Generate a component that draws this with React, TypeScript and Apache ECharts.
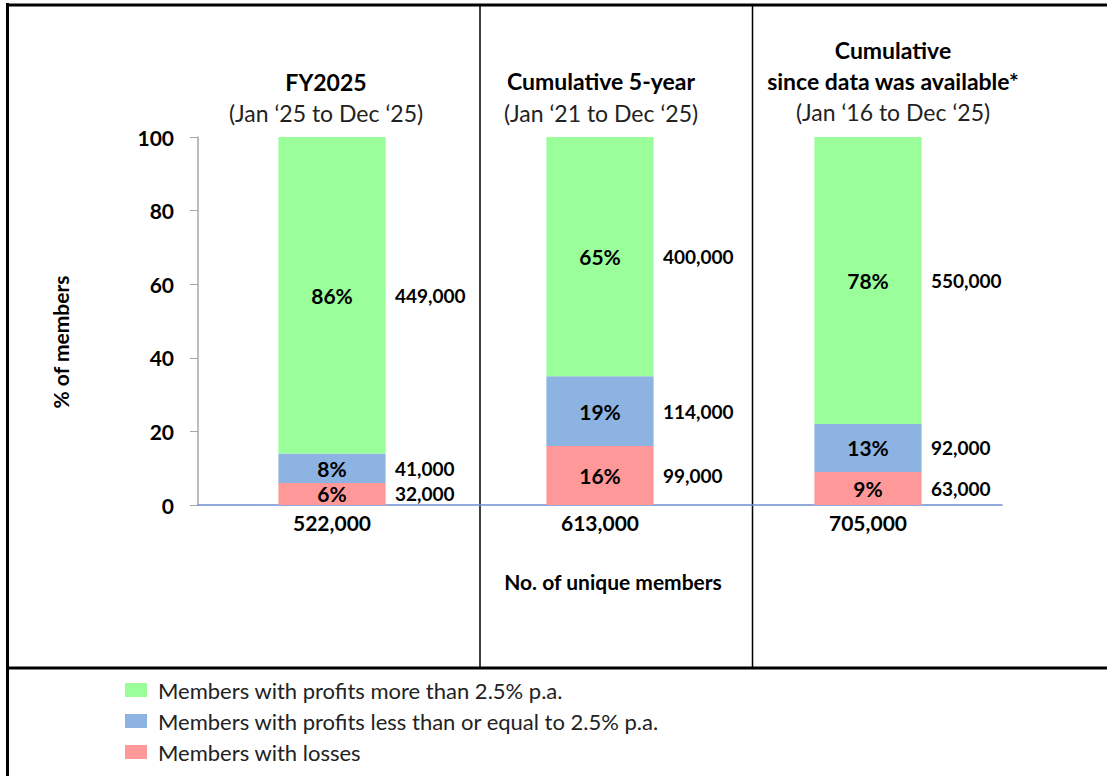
import React, { useEffect, useRef } from "react";
import * as echarts from "echarts";

const categories = ["FY2025", "Cumulative 5-year", "Cumulative since data was available*"];
const totals = [522000, 613000, 705000];
const lossPct = [6, 16, 9];
const lowPct = [8, 19, 13];
const highPct = [86, 65, 78];
const lossCount = [32000, 99000, 63000];
const lowCount = [41000, 114000, 92000];
const highCount = [449000, 400000, 550000];
const yTicks = [0, 20, 40, 60, 80, 100];

const seriesNames = [
  "Members with profits more than 2.5% p.a.",
  "Members with profits less than or equal to 2.5% p.a.",
  "Members with losses",
];

const FONT = "Lato, 'Open Sans', sans-serif";
const fmt = (n: number) => n.toLocaleString("en-US");

export default function App() {
  const ref = useRef<HTMLDivElement>(null);
  useEffect(() => {
    if (!ref.current) return;
    const chart = echarts.init(ref.current, null, { renderer: "svg" });

    const mids = (base: number[], seg: number[]) => seg.map((v, i) => [i, base[i] + v / 2]);
    const zeros = categories.map(() => 0);
    const lowBase = lossPct.slice();
    const highBase = lossPct.map((v, i) => v + lowPct[i]);

    const countSeries = (name: string, pts: number[][], counts: number[]) => ({
      type: "scatter",
      name,
      symbolSize: 0,
      silent: true,
      data: pts,
      itemStyle: { opacity: 1 },
      label: {
        show: true,
        position: "right",
        distance: 63,
        formatter: (p: any) => fmt(counts[p.dataIndex]),
        fontFamily: FONT,
        fontWeight: "bold",
        fontSize: 19,
        color: "#000",
        opacity: 1,
      },
      z: 5,
    });

    const barLabel = {
      show: true,
      position: "inside",
      formatter: (p: any) => p.value + "%",
      fontFamily: FONT,
      fontWeight: "bold",
      fontSize: 21,
      color: "#000",
    };

    const titleText = (x: number, y: number, text: string, bold: boolean) => ({
      type: "text",
      x,
      y,
      style: {
        text,
        fontFamily: FONT,
        fontSize: 23,
        fontWeight: bold ? "bold" : "normal",
        fill: bold ? "#000" : "#222",
        textAlign: "center",
        textVerticalAlign: "middle",
      },
    });

    const line = (x1: number, y1: number, x2: number, y2: number, w: number) => ({
      type: "line",
      shape: { x1, y1, x2, y2 },
      style: { stroke: "#000", lineWidth: w },
      silent: true,
    });

    chart.setOption({
      animation: false,
      backgroundColor: "#fff",
      grid: { left: 198, top: 137, width: 804, height: 368, containLabel: false },
      legend: {
        data: seriesNames,
        orient: "vertical",
        left: 120,
        top: 674,
        itemWidth: 22,
        itemHeight: 14,
        itemGap: 9,
        icon: "rect",
        textStyle: { fontFamily: FONT, fontSize: 22, color: "#222", padding: [0, 0, 0, 6] },
        selectedMode: false,
      },
      xAxis: {
        type: "category",
        data: categories,
        axisLine: { lineStyle: { color: "#6f8fd0", width: 1.5 } },
        axisTick: { show: false },
        axisLabel: {
          formatter: (_v: string, i: number) => fmt(totals[i]),
          fontFamily: FONT,
          fontWeight: "bold",
          fontSize: 21,
          color: "#000",
          margin: 7,
        },
        name: "No. of unique members",
        nameLocation: "middle",
        nameGap: 66,
        nameTextStyle: {
          fontFamily: FONT,
          fontWeight: "bold",
          fontSize: 21,
          color: "#000",
          padding: [0, 0, 0, 26],
        },
      },
      yAxis: {
        type: "value",
        min: yTicks[0],
        max: yTicks[yTicks.length - 1],
        interval: 20,
        axisLine: { show: true, lineStyle: { color: "#a6a6a6", width: 1.5 } },
        axisTick: { show: true, inside: false, length: 8, lineStyle: { color: "#a6a6a6" } },
        splitLine: { show: false },
        axisLabel: {
          fontFamily: FONT,
          fontWeight: "bold",
          fontSize: 21,
          color: "#000",
          margin: 24,
        },
      },
      series: [
        {
          type: "bar",
          name: seriesNames[2],
          stack: "a",
          data: lossPct,
          barWidth: "40%",
          itemStyle: { color: "#ff9999" },
          label: barLabel,
        },
        {
          type: "bar",
          name: seriesNames[1],
          stack: "a",
          data: lowPct,
          itemStyle: { color: "#8db3e2" },
          label: barLabel,
        },
        {
          type: "bar",
          name: seriesNames[0],
          stack: "a",
          data: highPct,
          itemStyle: { color: "#9aff9a" },
          label: barLabel,
        },
        countSeries("lossCount", mids(zeros, lossPct), lossCount),
        countSeries("lowCount", mids(lowBase, lowPct), lowCount),
        countSeries("highCount", mids(highBase, highPct), highCount),
      ],
      graphic: [
        line(7.5, 3, 7.5, 780, 3),
        line(6, 5, 1110, 5, 3),
        line(6, 668, 1110, 668, 3),
        line(480, 5, 480, 667, 1.5),
        line(752.5, 5, 752.5, 667, 1.5),
        titleText(326, 82, "FY2025", true),
        titleText(326, 113, "(Jan \u201825 to Dec \u201825)", false),
        titleText(601, 81, "Cumulative 5-year", true),
        titleText(601, 113, "(Jan \u201821 to Dec \u201825)", false),
        titleText(893, 50, "Cumulative", true),
        titleText(893, 81, "since data was available*", true),
        titleText(893, 112, "(Jan \u201816 to Dec \u201825)", false),
        {
          type: "text",
          x: 60,
          y: 342,
          rotation: Math.PI / 2,
          style: {
            text: "% of members",
            fontFamily: FONT,
            fontSize: 21,
            fontWeight: "bold",
            fill: "#000",
            textAlign: "center",
            textVerticalAlign: "middle",
          },
        },
      ],
    });
    return () => chart.dispose();
  }, []);
  return (
    <div
      ref={ref}
      style={{ position: "absolute", left: 0, top: 0, width: 1107, height: 776, background: "#fff" }}
    />
  );
}
